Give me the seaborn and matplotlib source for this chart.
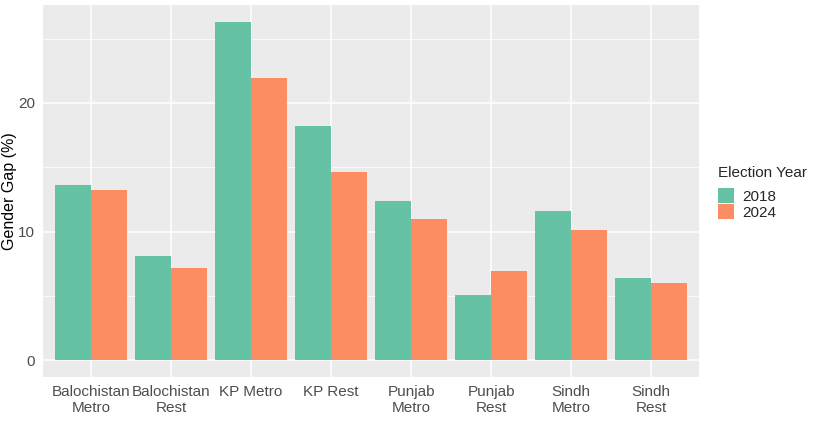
import matplotlib.pyplot as plt
import numpy as np
import pandas as pd
import seaborn as sns
from matplotlib.ticker import MultipleLocator

regions = ["Balochistan\nMetro", "Balochistan\nRest", "KP Metro", "KP Rest",
           "Punjab\nMetro", "Punjab\nRest", "Sindh\nMetro", "Sindh\nRest"]
gap_2018 = [13.6, 8.1, 26.3, 18.2, 12.4, 5.1, 11.6, 6.4]
gap_2024 = [13.2, 7.2, 21.9, 14.6, 11.0, 6.9, 10.1, 6.0]
years = ["2018", "2024"]
palette = {"2018": "#66C2A5", "2024": "#FC8D62"}

df = pd.DataFrame({
    "region": regions * 2,
    "gap": gap_2018 + gap_2024,
    "year": [years[0]] * len(regions) + [years[1]] * len(regions),
})

sns.set_theme(style="darkgrid", rc={
    "axes.facecolor": "#EBEBEB",
    "grid.color": "white",
})
plt.rcParams["font.family"] = ["Liberation Sans", "DejaVu Sans"]

fig = plt.figure(figsize=(8.13, 4.34), dpi=100)
ax = fig.add_axes([43 / 813, 57 / 434, 656 / 813, 372 / 434])

sns.barplot(data=df, x="region", y="gap", hue="year", palette=palette,
            width=0.9, edgecolor="none", linewidth=0, saturation=1, ax=ax)

ax.set_xlim(-0.6, len(regions) - 0.4)
top = max(gap_2018 + gap_2024)
ax.set_ylim(-0.05 * top, top * 1.05)
ax.yaxis.set_major_locator(MultipleLocator(10))
ax.yaxis.set_minor_locator(MultipleLocator(5))
ax.grid(which="major", color="white", lw=1.1)
ax.grid(which="minor", axis="y", color="white", lw=0.55)
ax.set_axisbelow(True)
for s in ax.spines.values():
    s.set_visible(False)

ax.tick_params(axis="both", which="major", length=3.5, width=0.8, color="#333333",
               labelsize=11, labelcolor="#4D4D4D", pad=2)
ax.tick_params(axis="y", which="minor", length=0)
ax.set_xlabel("")
ax.set_ylabel("Gender Gap (%)", fontsize=11.5, color="black")
ax.yaxis.set_label_coords(-0.039, 0.5)

sns.move_legend(ax, loc="center left", bbox_to_anchor=(1.02, 0.495),
                frameon=False, title="Election Year", fontsize=11,
                title_fontsize=11, handlelength=1.0, handleheight=1.05,
                labelspacing=0.05, handletextpad=0.55, borderaxespad=0)
leg = ax.get_legend()
leg._legend_box.align = "left"
leg._legend_box.sep = 6

fig.savefig("out.png", dpi=100)
